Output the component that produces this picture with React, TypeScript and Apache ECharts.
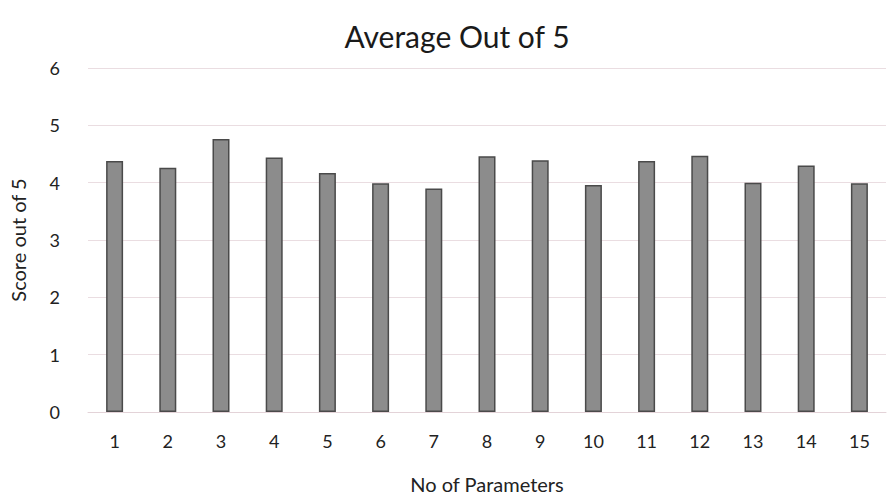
import React, { useEffect, useRef } from "react";
import * as echarts from "echarts";

const categories = ["1", "2", "3", "4", "5", "6", "7", "8", "9", "10", "11", "12", "13", "14", "15"];
const scores = [4.38, 4.26, 4.76, 4.44, 4.17, 3.99, 3.9, 4.46, 4.39, 3.96, 4.38, 4.47, 4.0, 4.3, 3.99];
const yMin = 0;
const yMax = 6;
const yInterval = 1;

export default function App() {
  const ref = useRef<HTMLDivElement>(null);
  useEffect(() => {
    if (!ref.current) return;
    const chart = echarts.init(ref.current, null, { renderer: "svg" });
    const font = "Lato, 'Open Sans', sans-serif";
    chart.setOption({
      animation: false,
      backgroundColor: "#ffffff",
      title: {
        text: "Average Out of 5",
        left: 452,
        top: 16,
        textAlign: "center",
        textStyle: { fontFamily: font, fontSize: 30, fontWeight: "normal", color: "#1a1a1a" },
      },
      grid: { left: 85, right: 2, top: 68, bottom: 86 },
      xAxis: {
        type: "category",
        data: categories,
        name: "No of Parameters",
        nameLocation: "middle",
        nameGap: 62,
        nameTextStyle: { fontFamily: font, fontSize: 20, color: "#222" },
        axisLine: { show: true, lineStyle: { color: "#e3d3d8", width: 1 } },
        axisTick: { show: false },
        axisLabel: { fontFamily: font, fontSize: 18, color: "#222", margin: 20 },
      },
      yAxis: {
        type: "value",
        min: yMin,
        max: yMax,
        interval: yInterval,
        name: "Score out of 5",
        nameLocation: "middle",
        nameGap: 60,
        nameTextStyle: { fontFamily: font, fontSize: 20, color: "#222" },
        axisLine: { show: false },
        axisTick: { show: false },
        axisLabel: { fontFamily: font, fontSize: 18, color: "#222", margin: 28 },
        splitLine: { lineStyle: { color: "#eadde1", width: 1 } },
      },
      series: [
        {
          type: "bar",
          data: scores,
          barWidth: 17,
          itemStyle: { color: "#8c8c8c", borderColor: "#4a4a4a", borderWidth: 1.5 },
        },
      ],
    });
    return () => chart.dispose();
  }, []);
  return (
    <div
      ref={ref}
      style={{ position: "fixed", left: 0, top: 0, width: 888, height: 499 }}
    />
  );
}
